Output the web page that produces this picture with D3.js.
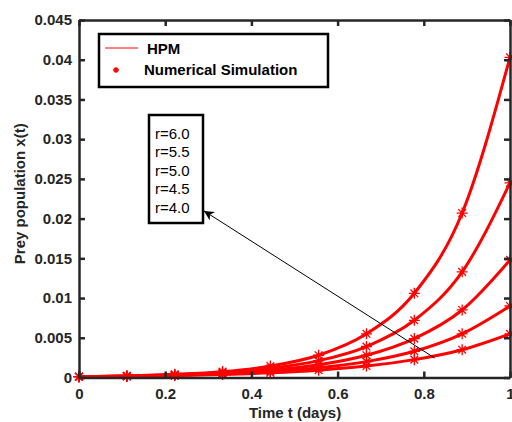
<!DOCTYPE html>
<html>
<head>
<meta charset="utf-8">
<script src="https://cdn.jsdelivr.net/npm/d3@7"></script>
<style>
	body { margin: 0; background: #fff; }
	text { font-family: "Liberation Sans", Arial, sans-serif; }
</style>
</head>
<body>
<script>
// data
var times = [0, 0.111, 0.222, 0.333, 0.444, 0.556, 0.667, 0.778, 0.889, 1];
var preyR60 = [0.0001, 0.0002, 0.0004, 0.00074, 0.00144, 0.0028, 0.0055, 0.0106, 0.0207, 0.0403];
var preyR55 = [0.0001, 0.00018, 0.00034, 0.00063, 0.00115, 0.00212, 0.0039, 0.0072, 0.0133, 0.0245];
var preyR50 = [0.0001, 0.00017, 0.0003, 0.00053, 0.00092, 0.0016, 0.0028, 0.0049, 0.0085, 0.0148];
var preyR45 = [0.0001, 0.000165, 0.00027, 0.00045, 0.00074, 0.00122, 0.002, 0.0033, 0.0055, 0.009];
var preyR40 = [0.0001, 0.000156, 0.00024, 0.00038, 0.00059, 0.00092, 0.00144, 0.00225, 0.0035, 0.0055];
var rLabels = ["r=6.0", "r=5.5", "r=5.0", "r=4.5", "r=4.0"];
var legendLabels = ["HPM", "Numerical Simulation"];
var xTicks = [0, 0.2, 0.4, 0.6, 0.8, 1];
var xTickLabels = ["0", "0.2", "0.4", "0.6", "0.8", "1"];
var yTicks = [0, 0.005, 0.01, 0.015, 0.02, 0.025, 0.03, 0.035, 0.04, 0.045];
var yTickLabels = ["0", "0.005", "0.01", "0.015", "0.02", "0.025", "0.03", "0.035", "0.04", "0.045"];

var series = [preyR60, preyR55, preyR50, preyR45, preyR40];

var width = 512,
	height = 422,
	plotLeft = 79,
	plotRight = 510,
	plotTop = 20,
	plotBottom = 377.5,
	tickLen = 6,
	axisColor = "#262626",
	red = "#ff0000";

var x = d3.scaleLinear().domain([0, 1]).range([plotLeft, plotRight]);
var y = d3.scaleLinear().domain([0, 0.045]).range([plotBottom, plotTop]);

var svg = d3.select("body").append("svg")
	.attr("width", width)
	.attr("height", height);

// asterisk marker
function star(s) {
	var d = s * 0.7;
	return "M" + (-s) + ",0H" + s + "M0," + (-s) + "V" + s +
		"M" + (-d) + "," + (-d) + "L" + d + "," + d +
		"M" + (-d) + "," + d + "L" + d + "," + (-d);
}

// curves
var line = d3.line()
	.x(function (d) { return x(d[0]); })
	.y(function (d) { return y(d[1]); })
	.curve(d3.curveMonotoneX);

var groups = svg.selectAll("g.series")
	.data(series)
	.enter()
	.append("g")
	.attr("class", "series");

groups.append("path")
	.attr("d", function (d) { return line(d3.zip(times, d)); })
	.attr("fill", "none")
	.attr("stroke", red)
	.attr("stroke-width", 3);

groups.selectAll("path.marker")
	.data(function (d) { return d3.zip(times, d); })
	.enter()
	.append("path")
	.attr("class", "marker")
	.attr("transform", function (d) { return "translate(" + x(d[0]) + "," + y(d[1]) + ")"; })
	.attr("d", star(5.5))
	.attr("stroke", red)
	.attr("stroke-width", 1.3)
	.attr("fill", "none");

// axes box
var xAxis = svg.append("g")
	.attr("transform", "translate(0," + plotBottom + ")")
	.call(d3.axisBottom(x).tickValues(xTicks).tickSizeInner(-tickLen).tickSizeOuter(0)
		.tickFormat(function (d, i) { return xTickLabels[i]; }));

var yAxis = svg.append("g")
	.attr("transform", "translate(" + plotLeft + ",0)")
	.call(d3.axisLeft(y).tickValues(yTicks).tickSizeInner(-tickLen).tickSizeOuter(0)
		.tickFormat(function (d, i) { return yTickLabels[i]; }));

var xTop = svg.append("g")
	.attr("transform", "translate(0," + plotTop + ")")
	.call(d3.axisTop(x).tickValues(xTicks).tickSizeInner(-tickLen).tickSizeOuter(0).tickFormat(""));

var yRight = svg.append("g")
	.attr("transform", "translate(" + plotRight + ",0)")
	.call(d3.axisRight(y).tickValues(yTicks).tickSizeInner(-tickLen).tickSizeOuter(0).tickFormat(""));

[xAxis, yAxis, xTop, yRight].forEach(function (a) {
	a.select(".domain").attr("stroke", axisColor).attr("stroke-width", 2.5);
	a.selectAll(".tick line").attr("stroke", axisColor).attr("stroke-width", 2.5);
});

xAxis.selectAll(".tick text")
	.attr("y", 11)
	.attr("dy", "0.71em")
	.attr("fill", axisColor)
	.style("font-size", "15px")
	.style("font-weight", "bold");

yAxis.selectAll(".tick text")
	.attr("x", -7)
	.attr("fill", axisColor)
	.style("font-size", "15px")
	.style("font-weight", "bold");

// axis titles
svg.append("text")
	.text("Time t (days)")
	.attr("x", 295)
	.attr("y", 418)
	.attr("text-anchor", "middle")
	.attr("fill", axisColor)
	.style("font-size", "15px")
	.style("font-weight", "bold");

svg.append("text")
	.text("Prey population x(t)")
	.attr("transform", "translate(25," + ((plotTop + plotBottom) / 2 - 5) + ") rotate(-90)")
	.attr("text-anchor", "middle")
	.attr("fill", axisColor)
	.style("font-size", "15px")
	.style("font-weight", "bold");

// legend
var legend = svg.append("g");

legend.append("rect")
	.attr("x", 99)
	.attr("y", 34)
	.attr("width", 229)
	.attr("height", 53)
	.attr("fill", "#fff")
	.attr("stroke", "#000")
	.attr("stroke-width", 2.5);

legend.append("line")
	.attr("x1", 105)
	.attr("x2", 138)
	.attr("y1", 48)
	.attr("y2", 48)
	.attr("stroke", red)
	.attr("stroke-width", 1);

legend.append("path")
	.attr("transform", "translate(116,70)")
	.attr("d", star(3))
	.attr("stroke", red)
	.attr("stroke-width", 1.3)
	.attr("fill", "none");

legend.selectAll("text")
	.data(legendLabels)
	.enter()
	.append("text")
	.text(function (d) { return d; })
	.attr("x", function (d, i) { return i === 0 ? 147 : 144; })
	.attr("y", function (d, i) { return 54 + i * 21; })
	.attr("fill", "#000")
	.style("font-size", "15px")
	.style("font-weight", "bold");

// r annotation with arrow
svg.append("defs")
	.append("marker")
	.attr("id", "head")
	.attr("viewBox", "0 0 10 10")
	.attr("refX", 10)
	.attr("refY", 5)
	.attr("markerWidth", 12)
	.attr("markerHeight", 10)
	.attr("markerUnits", "userSpaceOnUse")
	.attr("orient", "auto")
	.append("path")
	.attr("d", "M0,0L10,5L0,10L3,5Z")
	.attr("fill", "#000");

svg.append("line")
	.attr("x1", x(0.825))
	.attr("y1", y(0.00246))
	.attr("x2", x(0.29))
	.attr("y2", y(0.02097))
	.attr("stroke", "#000")
	.attr("stroke-width", 1)
	.attr("marker-end", "url(#head)");

var note = svg.append("g");

note.append("rect")
	.attr("x", 149)
	.attr("y", 115)
	.attr("width", 54)
	.attr("height", 108)
	.attr("fill", "#fff")
	.attr("stroke", "#000")
	.attr("stroke-width", 2.5);

note.selectAll("text")
	.data(rLabels)
	.enter()
	.append("text")
	.text(function (d) { return d; })
	.attr("x", 155)
	.attr("y", function (d, i) { return 138.5 + i * 18.6; })
	.attr("fill", "#000")
	.style("font-size", "15px");
</script>
</body>
</html>
